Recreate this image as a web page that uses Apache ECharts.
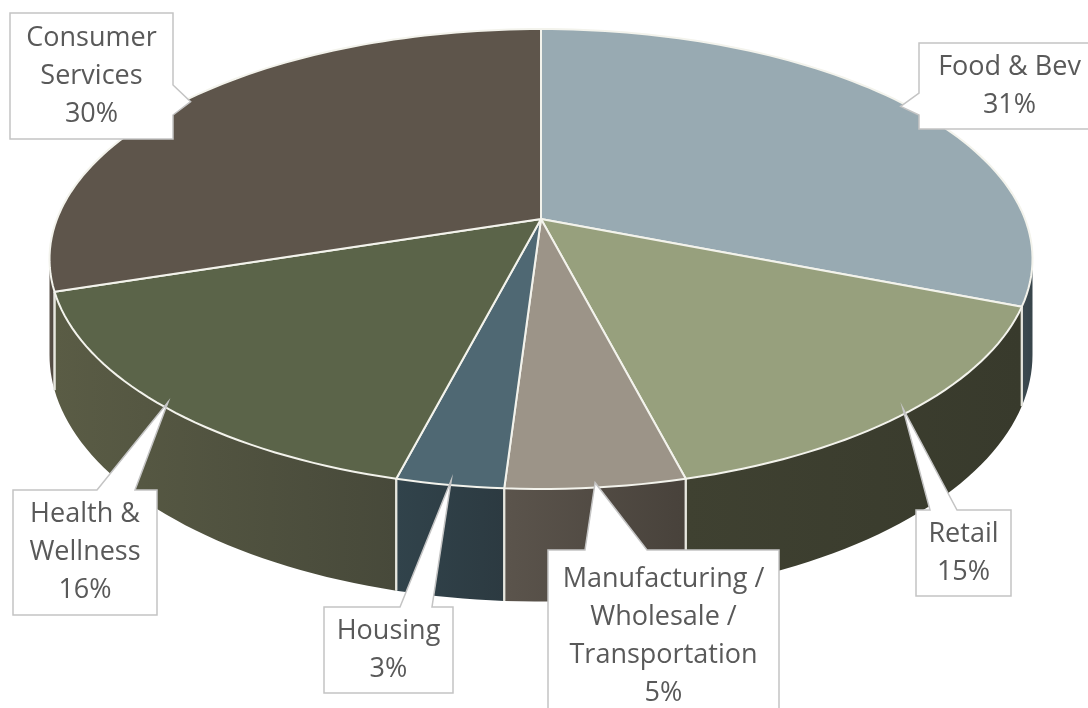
<!DOCTYPE html>
<html><head><meta charset="utf-8">
<script src="https://cdn.jsdelivr.net/npm/echarts@6/dist/echarts.min.js"></script>
<style>html,body{margin:0;padding:0;background:#fff}#c{width:1088px;height:708px}</style>
</head><body><div id="c"></div>
<script>
// ---- data ----
const categories = ['Food & Bev', 'Retail', 'Manufacturing / Wholesale / Transportation', 'Housing', 'Health & Wellness', 'Consumer Services'];
const values = [31, 15, 5, 3, 16, 30];
const labelLines = [['Food & Bev'], ['Retail'], ['Manufacturing /', 'Wholesale /', 'Transportation'], ['Housing'], ['Health &', 'Wellness'], ['Consumer', 'Services']];

// ---- styles / layout ----
const topColors = ['#98AAB2', '#97A07D', '#9C9488', '#4F6873', '#5B6449', '#5E554B'];
const sideColors = [['#3E4B51', '#37444A'], ['#3F4131', '#383A2C'], ['#5B544C', '#48423B'], ['#31434B', '#2C3A41'], ['#5A5C45', '#47493A'], ['#5A5249', '#4C453D']];
const calloutLayout = [
  { box: [919, 43, 1100, 129], side: 'left', base: [93, 115] },
  { box: [916, 510, 1011, 596], side: 'top', base: [930, 957] },
  { box: [548, 550, 779, 722], side: 'top', base: [585, 647] },
  { box: [324, 607, 453, 693], side: 'top', base: [400, 432] },
  { box: [13, 490, 157, 615], side: 'top', base: [97, 135] },
  { box: [10, 13, 173, 139], side: 'right', base: [85, 115] }
];
const G = { cx: 541, cy: 219, A: 484, B: 223, p: 0.174, h: 93, visFrom: 100, visTo: 260 };

function proj(t, down, r) {
  r = r == null ? 1 : r;
  const a = t * Math.PI / 180, X = r * Math.sin(a), Z = r * Math.cos(a);
  const f = 1 / (1 + G.p * Z);
  return [G.cx + G.A * X * f, G.cy - G.B * Z * f + (down ? G.h * f : 0)];
}
function arc(t1, t2, down) {
  const pts = [], n = Math.max(2, Math.ceil(Math.abs(t2 - t1) / 1.5));
  for (let k = 0; k <= n; k++) pts.push(proj(t1 + (t2 - t1) * k / n, down));
  return pts;
}
function callout(box, side, base, tip) {
  const [x0, y0, x1, y1] = box, pts = [[x0, y0]];
  if (side === 'top') pts.push([base[0], y0], tip, [base[1], y0]);
  pts.push([x1, y0]);
  if (side === 'right') pts.push([x1, base[0]], tip, [x1, base[1]]);
  pts.push([x1, y1]);
  if (side === 'bottom') pts.push([base[1], y1], tip, [base[0], y1]);
  pts.push([x0, y1]);
  if (side === 'left') pts.push([x0, base[1]], tip, [x0, base[0]]);
  return pts;
}

const total = values.reduce((s, v) => s + v, 0);
const starts = [];
values.reduce((acc, v, i) => { starts[i] = acc; return acc + v; }, 0);

function renderItem(params, api) {
  const i = params.dataIndex;
  const v = api.value(0);
  const a1 = starts[i] / total * 360, a2 = (starts[i] + v) / total * 360;
  const children = [];
  // side wall
  const s1 = Math.max(a1, G.visFrom), s2 = Math.min(a2, G.visTo);
  if (s2 > s1) {
    const topArc = arc(s1, s2, false), botArc = arc(s2, s1, true);
    const pL = proj(s2, false), pR = proj(s1, false);
    children.push({
      type: 'polygon', z2: 1,
      shape: { points: topArc.concat(botArc) },
      style: {
        fill: { type: 'linear', x: pL[0], y: 0, x2: pR[0], y2: 0, global: true,
          colorStops: [{ offset: 0, color: sideColors[i][0] }, { offset: 1, color: sideColors[i][1] }] },
        stroke: null
      }
    });
  }
  // side boundary lines
  [a1, a2].forEach(a => {
    if (a >= G.visFrom && a <= G.visTo) {
      const p = proj(a, false), q = proj(a, true);
      children.push({ type: 'line', z2: 2, shape: { x1: p[0], y1: p[1], x2: q[0], y2: q[1] },
        style: { stroke: '#E6E6DE', lineWidth: 2 } });
    }
  });
  // top face
  const topPts = [[G.cx, G.cy]].concat(arc(a1, a2, false));
  children.push({ type: 'polygon', z2: 3, shape: { points: topPts },
    style: { fill: topColors[i], stroke: '#F3F3EC', lineWidth: 2, lineJoin: 'round' } });
  // callout
  const L = calloutLayout[i];
  const mid = (a1 + a2) / 2;
  const tip = proj(mid, false, 0.985);
  children.push({ type: 'polygon', z2: 10, shape: { points: callout(L.box, L.side, L.base, tip) },
    style: { fill: '#FFFFFF', stroke: '#C4C4C4', lineWidth: 1.5, lineJoin: 'miter' } });
  const pct = Math.round(v / total * 100) + '%';
  children.push({ type: 'text', z2: 11,
    style: { text: labelLines[i].concat([pct]).join('\n'),
      x: (L.box[0] + L.box[2]) / 2, y: (L.box[1] + L.box[3]) / 2,
      align: 'center', verticalAlign: 'middle',
      fontFamily: '"Open Sans", Lato, sans-serif', fontSize: 27, lineHeight: 38, fill: '#595959' } });
  return { type: 'group', children: children };
}

const chart = echarts.init(document.getElementById('c'), null, { renderer: 'canvas' });
chart.setOption({
  animation: false,
  backgroundColor: '#FFFFFF',
  series: [{
    type: 'custom',
    coordinateSystem: 'none',
    renderItem: renderItem,
    data: values.map((v, i) => ({ name: categories[i], value: [v, i] }))
  }]
});
</script>
</body></html>
